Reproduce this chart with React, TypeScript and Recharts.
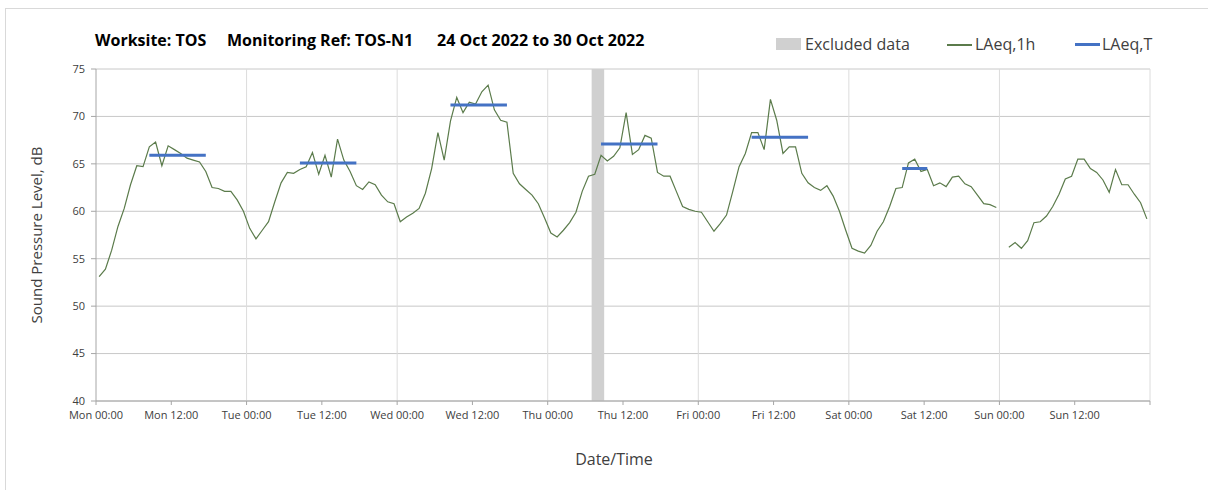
import { LineChart, Line, XAxis, YAxis, CartesianGrid, ReferenceArea } from 'recharts';

// hourly LAeq,1h, one array per day (values at mid-hour)
const mon = [53.1, 53.9, 55.9, 58.4, 60.3, 62.8, 64.8, 64.7, 66.8, 67.3, 64.8, 66.9, 66.5, 66.1, 65.6, 65.4, 65.2, 64.2, 62.5, 62.4, 62.1, 62.1, 61.2, 60.0];
const tue = [58.2, 57.1, 58.0, 58.9, 61.0, 63.0, 64.1, 64.0, 64.4, 64.7, 66.2, 63.9, 65.9, 63.6, 67.6, 65.4, 64.2, 62.7, 62.3, 63.1, 62.8, 61.7, 61.0, 60.8];
const wed = [58.9, 59.4, 59.8, 60.3, 61.9, 64.5, 68.3, 65.4, 69.5, 72.0, 70.4, 71.5, 71.3, 72.6, 73.3, 70.7, 69.6, 69.4, 64.0, 62.9, 62.3, 61.7, 60.8, 59.3];
const thu = [57.7, 57.3, 58.0, 58.8, 59.9, 62.1, 63.7, 63.9, 65.9, 65.3, 65.8, 66.7, 70.4, 66.0, 66.5, 68.0, 67.7, 64.1, 63.7, 63.7, 62.1, 60.5, 60.2, 60.0];
const fri = [59.9, 58.9, 57.9, 58.7, 59.6, 62.1, 64.7, 66.1, 68.3, 68.3, 66.5, 71.8, 69.6, 66.1, 66.8, 66.8, 64.0, 63.0, 62.5, 62.2, 62.7, 61.6, 60.0, 58.0];
const sat = [56.1, 55.8, 55.6, 56.4, 57.9, 58.9, 60.5, 62.4, 62.5, 65.1, 65.5, 64.2, 64.4, 62.7, 63.0, 62.6, 63.6, 63.7, 62.9, 62.6, 61.7, 60.8, 60.7, 60.4];
const sun = [null, 56.2, 56.7, 56.1, 56.9, 58.8, 58.9, 59.5, 60.5, 61.8, 63.4, 63.7, 65.5, 65.5, 64.5, 64.1, 63.3, 62.0, 64.4, 62.8, 62.8, 61.8, 60.9, 59.2];

// LAeq,T periods: [first hour, last hour, level]
const periods: [number, number, number][] = [
  [8, 17, 65.9],
  [32, 41, 65.1],
  [56, 65, 71.2],
  [80, 89, 67.1],
  [104, 113, 67.8],
  [128, 132, 64.5],
];

const excluded = [79, 81];
const days = ['Mon', 'Tue', 'Wed', 'Thu', 'Fri', 'Sat', 'Sun'];
const xTicks = [0, 12, 24, 36, 48, 60, 72, 84, 96, 108, 120, 132, 144, 156, 168];
const dayLines = [24, 48, 72, 96, 120, 144, 168];
const yTicks = [40, 45, 50, 55, 60, 65, 70, 75];

const hourly = [mon, tue, wed, thu, fri, sat, sun].flat();
const data = hourly.map((v, h) => {
  const p = periods.find(([a, b]) => h >= a && h <= b);
  return { t: h + 0.5, laeq1h: v, laeqT: p ? p[2] : null };
});

const font = '"Open Sans", sans-serif';
const grey = '#404040';
const green = '#5b7b4b';
const blue = '#4472c4';

function fmtTick(v: number) {
  if (v >= 168) return '';
  return `${days[Math.floor(v / 24)]} ${v % 24 === 0 ? '00' : '12'}:00`;
}

const abs = (left: number, top: number, extra: React.CSSProperties = {}): React.CSSProperties => ({
  position: 'absolute', left, top, whiteSpace: 'pre', ...extra,
});

export default function App() {
  const title = { fontSize: 16, fontWeight: 700, color: '#000' };
  const leg = { fontSize: 16, color: grey };
  return (
    <div style={{ position: 'absolute', left: 0, top: 0, width: 1208, height: 490, overflow: 'hidden', background: '#fff', fontFamily: font }}>
      <div style={{ position: 'absolute', left: 5, top: 8, width: 1220, height: 500, border: '1px solid #d9d9d9' }} />
      <div style={abs(95, 29, title)}>Worksite: TOS</div>
      <div style={abs(227, 29, title)}>Monitoring Ref: TOS-N1</div>
      <div style={abs(437, 29, title)}>24 Oct 2022 to 30 Oct 2022</div>

      <div style={abs(776, 38, { width: 25, height: 12, background: '#d0d0d0' })} />
      <div style={abs(805, 33, leg)}>Excluded data</div>
      <div style={abs(947, 44, { width: 25, height: 1.5, background: green })} />
      <div style={abs(975, 33, leg)}>LAeq,1h</div>
      <div style={abs(1075, 43, { width: 25, height: 3, background: blue })} />
      <div style={abs(1102, 33, leg)}>LAeq,T</div>

      <div style={{ position: 'absolute', left: 36, top: 235, transform: 'translate(-50%, -50%) rotate(-90deg)', fontSize: 15, color: grey, whiteSpace: 'nowrap' }}>
        Sound Pressure Level, dB
      </div>
      <div style={{ position: 'absolute', left: 614, top: 448, transform: 'translateX(-50%)', fontSize: 16, color: grey, whiteSpace: 'nowrap' }}>
        Date/Time
      </div>

      <div style={{ position: 'absolute', left: 0, top: 0 }}>
        <LineChart width={1208} height={490} data={data} margin={{ top: 69, right: 58, bottom: 59, left: 46 }}>
          <CartesianGrid vertical={false} stroke="#c8c8c8" />
          <CartesianGrid horizontal={false} verticalValues={dayLines} stroke="#dcdcdc" />
          <ReferenceArea x1={excluded[0]} x2={excluded[1]} y1={40} y2={75} fill="#d0d0d0" fillOpacity={1} stroke="none" ifOverflow="hidden" />
          <XAxis
            dataKey="t"
            type="number"
            domain={[0, 168]}
            ticks={xTicks}
            tickFormatter={fmtTick}
            interval={0}
            height={30}
            tickSize={4}
            tickMargin={6}
            stroke="#a6a6a6"
            tick={{ fill: grey, fontSize: 11, fontFamily: font }}
          />
          <YAxis
            type="number"
            domain={[40, 75]}
            ticks={yTicks}
            interval={0}
            width={50}
            tickSize={5}
            tickMargin={6}
            stroke="#a6a6a6"
            tick={{ fill: grey, fontSize: 11, fontFamily: font }}
          />
          <Line dataKey="laeq1h" type="linear" stroke={green} strokeWidth={1.2} dot={false} isAnimationActive={false} connectNulls={false} />
          <Line dataKey="laeqT" type="linear" stroke={blue} strokeWidth={3} dot={false} isAnimationActive={false} connectNulls={false} />
        </LineChart>
      </div>
    </div>
  );
}
